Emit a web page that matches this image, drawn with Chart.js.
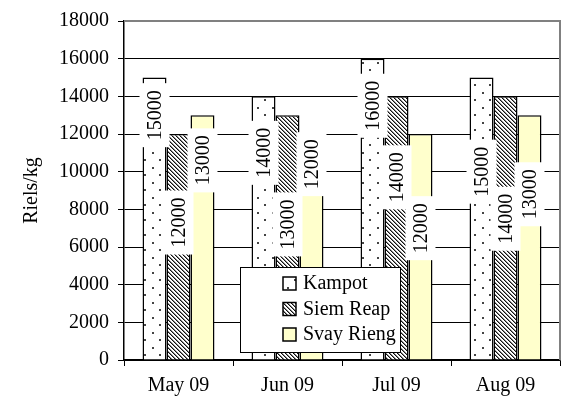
<!DOCTYPE html>
<html>
<head>
<meta charset="utf-8">
<script src="https://cdn.jsdelivr.net/npm/chart.js@4/dist/chart.umd.min.js"></script>
<style>html,body{margin:0;padding:0;background:#fff}</style>
</head>
<body>
<canvas id="c" width="563" height="402"></canvas>
<script>
var months = ['May 09', 'Jun 09', 'Jul 09', 'Aug 09'];
var kampot = [15000, 14000, 16000, 15000];
var siemReap = [12000, 13000, 14000, 14000];
var svayRieng = [13000, 12000, 12000, 13000];
var yTicks = [0, 2000, 4000, 6000, 8000, 10000, 12000, 14000, 16000, 18000];
// where each value box sits on its bar (Riels/kg)
var kampotLabelAt = [13000, 11000, 13500, 10000];
var siemReapLabelAt = [7300, 7200, 9700, 7500];
var svayRiengLabelAt = [10600, 10400, 7000, 8800];

var font = {family: 'Liberation Serif', size: 20};

function dotPattern(){
  var c = document.createElement('canvas'); c.width = 15; c.height = 15;
  var g = c.getContext('2d');
  g.fillStyle = '#fff'; g.fillRect(0, 0, 15, 15);
  g.fillStyle = '#444';
  g.fillRect(2, 2, 2, 2);
  g.fillRect(9, 9, 2, 2);
  return g.createPattern(c, 'repeat');
}
function hatchPattern(){
  var c = document.createElement('canvas'); c.width = 4; c.height = 4;
  var g = c.getContext('2d');
  g.fillStyle = '#fff'; g.fillRect(0, 0, 4, 4);
  for(var y = 0; y < 4; y++){
    g.fillStyle = '#111';
    g.fillRect(y % 4, y, 1, 1);
    g.fillStyle = '#888';
    g.fillRect((y + 1) % 4, y, 1, 1);
  }
  return g.createPattern(c, 'repeat');
}

var barLabels = {
  id: 'barLabels',
  afterDatasetsDraw: function(chart){
    var ctx = chart.ctx, ys = chart.scales.y;
    chart.data.datasets.forEach(function(ds, i){
      chart.getDatasetMeta(i).data.forEach(function(bar, j){
        var txt = String(ds.data[j]);
        var y = ys.getPixelForValue(ds.labelAt[j]);
        ctx.save();
        ctx.translate(bar.x, y);
        ctx.rotate(-Math.PI / 2);
        ctx.font = '20px "Liberation Serif"';
        var w = ctx.measureText(txt).width;
        ctx.fillStyle = '#fff';
        ctx.fillRect(-w / 2 - 7, -15, w + 14, 30);
        ctx.fillStyle = '#000';
        ctx.textAlign = 'center';
        ctx.textBaseline = 'middle';
        ctx.fillText(txt, 0, 1);
        ctx.restore();
      });
    });
  }
};

var frame = {
  id: 'frame',
  afterDraw: function(chart){
    var ctx = chart.ctx, a = chart.chartArea;
    ctx.save();
    ctx.strokeStyle = '#808080';
    ctx.lineWidth = 2;
    ctx.beginPath();
    ctx.moveTo(a.left, a.top);
    ctx.lineTo(a.right, a.top);
    ctx.lineTo(a.right, a.bottom);
    ctx.stroke();
    ctx.restore();
  }
};

var boxLegend = {
  id: 'boxLegend',
  afterDraw: function(chart){
    var ctx = chart.ctx;
    ctx.save();
    ctx.fillStyle = '#fff';
    ctx.fillRect(240, 267, 160, 85);
    ctx.strokeStyle = '#000';
    ctx.lineWidth = 1;
    ctx.strokeRect(240.5, 267.5, 160, 85);
    ctx.font = '20px "Liberation Serif"';
    ctx.textBaseline = 'middle';
    chart.data.datasets.forEach(function(ds, i){
      var cy = 283 + i * 25.5;
      ctx.fillStyle = ds.backgroundColor;
      ctx.fillRect(283, cy - 6, 13, 13);
      ctx.strokeStyle = '#000';
      ctx.lineWidth = 1.5;
      ctx.strokeRect(283, cy - 6, 13, 13);
      ctx.fillStyle = '#000';
      ctx.fillText(ds.label, 303, cy + 1);
    });
    ctx.restore();
  }
};

new Chart(document.getElementById('c'), {
  type: 'bar',
  data: {
    labels: months,
    datasets: [
      {label: 'Kampot', data: kampot, labelAt: kampotLabelAt, backgroundColor: dotPattern()},
      {label: 'Siem Reap', data: siemReap, labelAt: siemReapLabelAt, backgroundColor: hatchPattern()},
      {label: 'Svay Rieng', data: svayRieng, labelAt: svayRiengLabelAt, backgroundColor: '#ffffcc'}
    ]
  },
  options: {
    responsive: false,
    animation: false,
    layout: {padding: {top: 15, right: 3, left: 0, bottom: 0}},
    datasets: {bar: {categoryPercentage: 0.66, barPercentage: 1, borderColor: '#000', borderWidth: 1.5}},
    plugins: {legend: {display: false}, tooltip: {enabled: false}},
    scales: {
      x: {
        grid: {offset: true, drawOnChartArea: false, tickLength: 6, color: '#000'},
        border: {color: '#000', width: 1.5},
        ticks: {font: font, color: '#000', padding: 8},
        afterFit: function(s){ s.height = 42; }
      },
      y: {
        min: 0, max: 18000,
        afterBuildTicks: function(s){ s.ticks = yTicks.map(function(v){ return {value: v}; }); },
        grid: {
          color: function(c){ return c.tick && c.tick.value === 18000 ? '#808080' : '#000'; },
          lineWidth: 1, tickLength: 6, tickColor: '#000'
        },
        border: {color: '#000', width: 1.5},
        ticks: {font: font, color: '#000', padding: 9, callback: function(v){ return String(v); }},
        title: {display: true, text: 'Riels/kg', font: font, color: '#000', padding: {top: 20, bottom: 0}},
        afterFit: function(s){ s.width = 124; }
      }
    }
  },
  plugins: [barLabels, frame, boxLegend]
});
</script>
</body>
</html>
